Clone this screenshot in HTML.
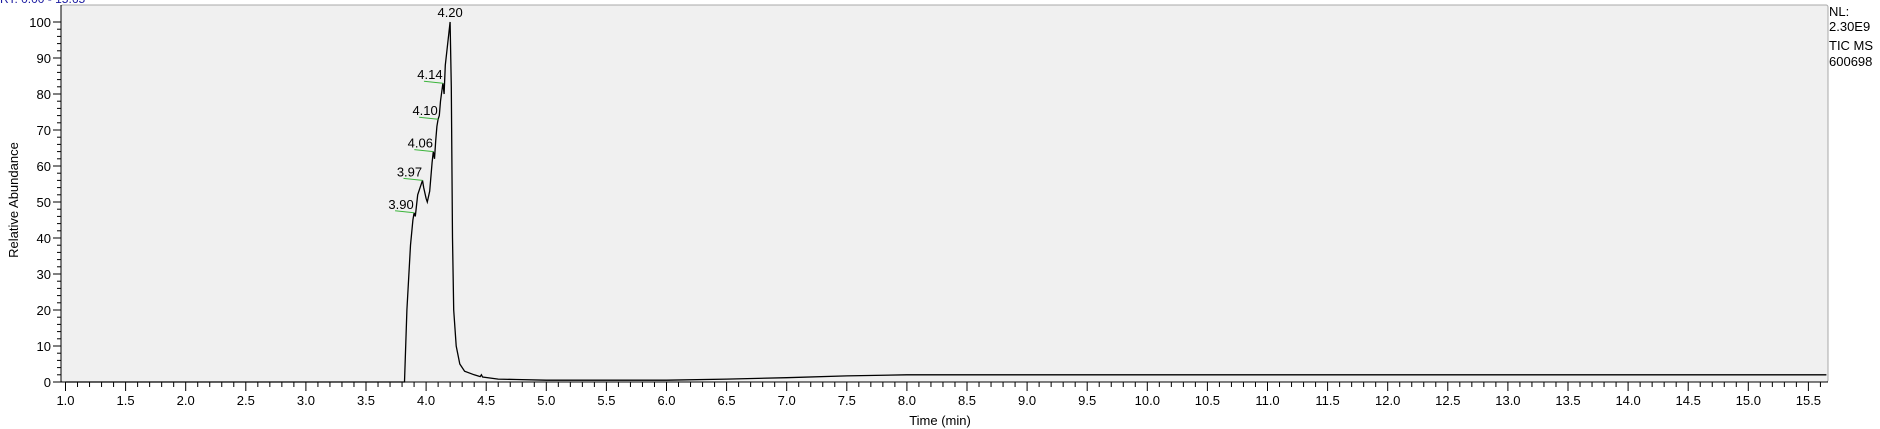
<!DOCTYPE html>
<html><head><meta charset="utf-8"><style>
body{margin:0;background:#fff;}
svg{display:block;font-family:"Liberation Sans",sans-serif;}
</style></head><body>
<svg id="chart" width="1880" height="429" xmlns="http://www.w3.org/2000/svg">
<text x="0" y="3" font-size="12" fill="#1a1aa0">RT: 0.00 - 15.65</text>
<rect x="61" y="5" width="1767" height="377" fill="#f0f0f0" stroke="#a8a8a8" stroke-width="1" rx="2"/>
<g id="axes"></g>
<path id="trace" fill="none" stroke="#000" stroke-width="1.3"/>
<g id="labels"></g>
<text transform="translate(18,200) rotate(-90)" text-anchor="middle" font-size="13">Relative Abundance</text>
<text x="940" y="425" text-anchor="middle" font-size="13">Time (min)</text>
<g font-size="13">
<text x="1829" y="16">NL:</text>
<text x="1829" y="31">2.30E9</text>
<text x="1829" y="50">TIC  MS</text>
<text x="1829" y="66">600698</text>
</g>
</svg>
<script>
const times=[1.0,3.82,3.84,3.87,3.89,3.90,3.91,3.93,3.95,3.97,3.98,4.00,4.01,4.03,4.05,4.06,4.07,4.08,4.09,4.10,4.11,4.12,4.14,4.15,4.16,4.18,4.19,4.20,4.21,4.22,4.23,4.25,4.28,4.32,4.40,4.45,4.46,4.47,4.60,4.75,5.0,6.0,6.5,7.0,7.5,8.0,15.65];
const abundance=[0,0,20,38,45,47,46,52,54,56,54,51,50,53,61,64,62,67,71,73,74,78,83,80,88,94,97,100,82,40,20,10,5,3,2,1.5,2,1.4,0.8,0.7,0.5,0.5,0.8,1.2,1.7,2,2];
const peakLabels=["3.90","3.97","4.06","4.10","4.14","4.20"];
const peakTimes=[3.90,3.97,4.06,4.10,4.14,4.20];
const peakValues=[47,56,64,73,83,100];
const xTickLabels=["1.0","1.5","2.0","2.5","3.0","3.5","4.0","4.5","5.0","5.5","6.0","6.5","7.0","7.5","8.0","8.5","9.0","9.5","10.0","10.5","11.0","11.5","12.0","12.5","13.0","13.5","14.0","14.5","15.0","15.5"];
const yTickLabels=["0","10","20","30","40","50","60","70","80","90","100"];
const NS="http://www.w3.org/2000/svg";
const X=t=>65.5+(t-1)*120.2;
const Y=v=>382-v*3.6;
function mk(tag,attrs,parent){const e=document.createElementNS(NS,tag);for(const k in attrs)e.setAttribute(k,attrs[k]);parent.appendChild(e);return e;}
const axes=document.getElementById('axes');
mk('line',{x1:61,y1:382,x2:1828,y2:382,stroke:'#000'},axes);
mk('line',{x1:61,y1:5,x2:61,y2:382,stroke:'#000'},axes);
for(let i=0;i<=156;i++){const t=1+i*0.1;if(t>15.65)break;const maj=i%5===0;
 const l=mk('line',{x1:X(t),y1:382,x2:X(t),y2:382+(maj?9:5),stroke:'#000'},axes);
 
 }
xTickLabels.forEach(s=>{const t=mk('text',{x:X(+s),y:405,'text-anchor':'middle','font-size':13},axes);t.textContent=s;
 
 });
for(let v=0;v<=100;v+=2){const maj=v%10===0;
 const l=mk('line',{x1:61-(maj?8:4),y1:Y(v),x2:61,y2:Y(v),stroke:'#000'},axes);
 
 }
yTickLabels.forEach(s=>{const t=mk('text',{x:51,y:Y(+s)+5,'text-anchor':'end','font-size':13},axes);t.textContent=s;
 
 });
document.getElementById('trace').setAttribute('d',times.map((t,i)=>(i?'L':'M')+X(t).toFixed(1)+','+Y(abundance[i]).toFixed(1)).join(''));
const lg=document.getElementById('labels');
peakLabels.forEach((s,i)=>{const px=X(peakTimes[i]),py=Y(peakValues[i]);
 if(i===peakLabels.length-1){const t=mk('text',{x:px,y:py-5,'text-anchor':'middle','font-size':13},lg);t.textContent=s;
  
  return;}
 const ln=mk('line',{x1:px-19,y1:py-2,x2:px,y2:py,stroke:'#3cb43c','stroke-width':1},lg);
 
 
 const t=mk('text',{x:px-13,y:py-4,'text-anchor':'middle','font-size':13},lg);t.textContent=s;
 
 });
</script>
</body></html>
